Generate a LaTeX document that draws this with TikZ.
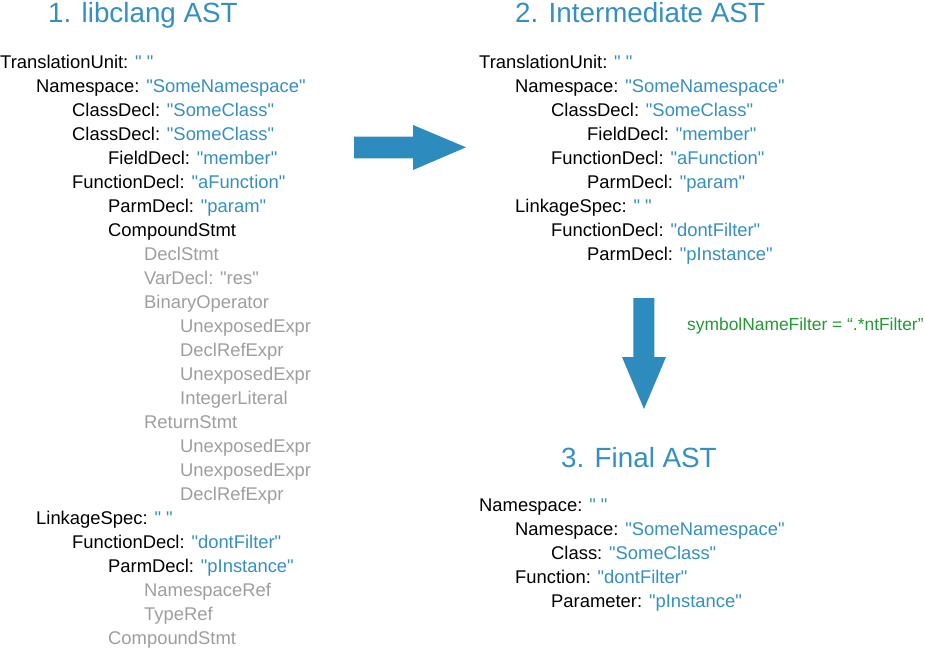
\documentclass[tikz,border=0pt]{standalone}
\usepackage{fontspec}
\newfontfamily\astfont{Liberation Sans}[Ligatures=ResetAll]
\definecolor{astblue}{RGB}{52,143,194}
\definecolor{arrowblue}{RGB}{46,139,190}
\definecolor{filtergreen}{RGB}{34,153,51}
\definecolor{astgray}{RGB}{158,158,158}
\newcommand{\astval}[1]{\textcolor{astblue}{#1}}
\newcommand{\astdim}[1]{\textcolor{astgray}{#1}}
\begin{document}
\begin{tikzpicture}[x=1pt,y=-1pt,
    astrow/.style={anchor=base west,inner sep=0pt,font=\astfont\fontsize{18.4}{24}\selectfont},
    asttitle/.style={anchor=base west,inner sep=0pt,text=astblue,font=\astfont\fontsize{27.8}{32}\selectfont}]
    \useasboundingbox (0,0) rectangle (925,649);

    \node[asttitle] (title1) at (48,22) {1. libclang AST};
    \node[asttitle] (title2) at (515,22) {2. Intermediate AST};
    \node[asttitle] (title3) at (561,467) {3. Final AST};

    % libclang tree
    \foreach \lvl/\txt [count=\i] in {
        0/{TranslationUnit: \astval{" "}},
        1/{Namespace: \astval{"SomeNamespace"}},
        2/{ClassDecl: \astval{"SomeClass"}},
        2/{ClassDecl: \astval{"SomeClass"}},
        3/{FieldDecl: \astval{"member"}},
        2/{FunctionDecl: \astval{"aFunction"}},
        3/{ParmDecl: \astval{"param"}},
        3/{CompoundStmt},
        4/{\astdim{DeclStmt}},
        4/{\astdim{VarDecl: "res"}},
        4/{\astdim{BinaryOperator}},
        5/{\astdim{UnexposedExpr}},
        5/{\astdim{DeclRefExpr}},
        5/{\astdim{UnexposedExpr}},
        5/{\astdim{IntegerLiteral}},
        4/{\astdim{ReturnStmt}},
        5/{\astdim{UnexposedExpr}},
        5/{\astdim{UnexposedExpr}},
        5/{\astdim{DeclRefExpr}},
        1/{LinkageSpec: \astval{" "}},
        2/{FunctionDecl: \astval{"dontFilter"}},
        3/{ParmDecl: \astval{"pInstance"}},
        4/{\astdim{NamespaceRef}},
        4/{\astdim{TypeRef}},
        3/{\astdim{CompoundStmt}}}
        \node[astrow] (lib\i) at (36*\lvl,44+24*\i) {\txt};

    % intermediate tree
    \foreach \lvl/\txt [count=\i] in {
        0/{TranslationUnit: \astval{" "}},
        1/{Namespace: \astval{"SomeNamespace"}},
        2/{ClassDecl: \astval{"SomeClass"}},
        3/{FieldDecl: \astval{"member"}},
        2/{FunctionDecl: \astval{"aFunction"}},
        3/{ParmDecl: \astval{"param"}},
        1/{LinkageSpec: \astval{" "}},
        2/{FunctionDecl: \astval{"dontFilter"}},
        3/{ParmDecl: \astval{"pInstance"}}}
        \node[astrow] (mid\i) at (479+36*\lvl,44+24*\i) {\txt};

    % final tree
    \foreach \lvl/\txt [count=\i] in {
        0/{Namespace: \astval{" "}},
        1/{Namespace: \astval{"SomeNamespace"}},
        2/{Class: \astval{"SomeClass"}},
        1/{Function: \astval{"dontFilter"}},
        2/{Parameter: \astval{"pInstance"}}}
        \node[astrow] (fin\i) at (479+36*\lvl,487+24*\i) {\txt};

    % block arrows
    \fill[arrowblue] (354,136.5) -- (413,136.5) -- (413,125) -- (466,147.3)
        -- (413,170) -- (413,158.3) -- (354,158.3) -- cycle;
    \fill[arrowblue] (633.3,298) -- (654.3,298) -- (654.3,357) -- (666,357)
        -- (644,409) -- (622,357) -- (633.3,357) -- cycle;

    \node[anchor=base west,inner sep=0pt,text=filtergreen,font=\astfont\fontsize{17.4}{20}\selectfont]
        (filter) at (687,330) {symbolNameFilter = “.*ntFilter”};
\end{tikzpicture}
\end{document}
